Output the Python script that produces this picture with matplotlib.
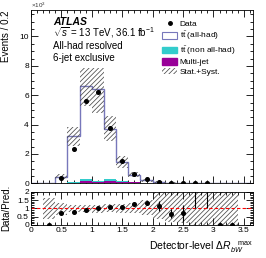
import numpy as np
import matplotlib
matplotlib.use("Agg")
import matplotlib.pyplot as plt
from matplotlib.patches import Patch
from matplotlib.lines import Line2D

plt.rcParams["font.family"] = ["Liberation Sans", "DejaVu Sans"]
plt.rcParams["mathtext.fontset"] = "custom"
plt.rcParams["mathtext.rm"] = "Liberation Sans"
plt.rcParams["mathtext.it"] = "Liberation Sans:italic"
plt.rcParams["hatch.linewidth"] = 0.55

# =========================
# data (x 10^3 events / 0.2)
# =========================
edges = np.round(np.arange(0, 3.61, 0.2), 1)
centers = edges[:-1] + 0.1

multijet = [0, 0, 0.01, 0.03, 0.16, 0.10, 0.15, 0.10, 0.06, 0.03, 0.01, 0.005, 0.002, 0.001, 0, 0, 0, 0]
non_allhad = [0, 0, 0.01, 0.05, 0.11, 0.06, 0.13, 0.03, 0.03, 0.01, 0.005, 0.003, 0.001, 0.001, 0, 0, 0, 0]
total_pred = [0, 0.02, 0.45, 3.23, 6.60, 6.44, 3.70, 1.43, 0.58, 0.20, 0.086, 0.04, 0.02, 0.006, 0.004, 0.002, 0.001, 0]
band_lo = [1, 0.36, 0.62, 0.78, 0.80, 0.74, 0.78, 0.74, 0.70, 0.60, 0.35, 0.20, 0.10, 0, 0, 0, 0, 1]
band_hi = [1, 1.62, 1.35, 1.18, 1.19, 1.22, 1.24, 1.28, 1.30, 1.50, 2.10, 2.30, 2.50, 3.0, 3.0, 3.0, 3.0, 1]

data = [np.nan, np.nan, 0.38, 2.34, 5.62, 6.25, 3.77, 1.52, 0.64, 0.26, 0.10, 0.027, 0.014, 0.012, 0.01, np.nan, np.nan, np.nan]
data_err = [0, 0, 0.12, 0.05, 0.08, 0.08, 0.06, 0.04, 0.03, 0.02, 0.01, 0.005, 0.005, 0.004, 0.004, 0, 0, 0]

ratio = [np.nan, 0.0, 0.74, 0.76, 0.88, 1.0, 1.06, 1.06, 1.26, 1.32, 1.16, 0.68, 0.72, 2.6, 2.6, 0.0, 0.0, np.nan]
ratio_err = [0, 0, 0.04, 0.03, 0.03, 0.03, 0.03, 0.04, 0.06, 0.13, 0.30, 0.25, 0.50, 1.60, 1.60, 0, 0, 0]

legend_labels = ["Data", r"t$\bar{\rm t}$ (all-had)", r"t$\bar{\rm t}$ (non all-had)", "Multi-jet", "Stat.+Syst."]

col_allhad = "#7777bb"
col_nonall = "#33cccc"
col_mj = "#990099"
col_hatch = "#4a4a4a"

# =========================
# figure
# =========================
fig = plt.figure(figsize=(2.66, 2.58), dpi=100)
ax = fig.add_axes([0.1165, 0.2895, 0.8345, 0.6715])
rax = fig.add_axes([0.1165, 0.128, 0.8345, 0.129])

mj = np.array(multijet)
na = np.array(non_allhad)
tot = np.array(total_pred)

# stacked prediction
ax.stairs(tot, edges, fill=True, color="white", zorder=1)
ax.stairs(tot, edges, color=col_allhad, lw=1.0, zorder=3)
ax.stairs(mj + na, edges, fill=True, color=col_nonall, zorder=2)
ax.stairs(mj, edges, fill=True, color=col_mj, zorder=2)

# uncertainty band
ax.stairs(tot * np.array(band_hi), edges, baseline=tot * np.array(band_lo),
          fill=True, facecolor="none", edgecolor=col_hatch, hatch="///////", lw=0, zorder=4)

ax.errorbar(centers, data, yerr=data_err, fmt="o", color="black", ms=2.6,
            elinewidth=0.8, capsize=0, zorder=5)

ax.set_xlim(0, 3.65)
ax.set_ylim(0, 11.8)
ax.set_yticks([0, 2, 4, 6, 8, 10])
ax.set_xticklabels([])
ax.set_ylabel("Events / 0.2", loc="top", fontsize=7)
ax.text(0.0, 1.003, r"$\times10^{3}$", transform=ax.transAxes, fontsize=4.5, va="bottom", ha="left", color="#333333")

ax.text(0.10, 0.915, "ATLAS", transform=ax.transAxes, fontsize=7.5, fontweight="bold", fontstyle="italic")
ax.text(0.10, 0.845, r"$\sqrt{s}$ = 13 TeV, 36.1 fb$^{-1}$", transform=ax.transAxes, fontsize=7)
ax.text(0.10, 0.775, "All-had resolved", transform=ax.transAxes, fontsize=7)
ax.text(0.10, 0.705, "6-jet exclusive", transform=ax.transAxes, fontsize=7)

handles = [
    Line2D([], [], marker="o", color="black", ls="none", ms=2.5),
    Patch(facecolor="white", edgecolor=col_allhad, lw=0.8),
    Patch(facecolor=col_nonall, edgecolor=col_nonall),
    Patch(facecolor=col_mj, edgecolor=col_mj),
    Patch(facecolor="white", edgecolor=col_hatch, hatch="///////", lw=0),
]
ax.legend(handles, legend_labels, loc="upper left", bbox_to_anchor=(0.565, 0.975), frameon=False,
          fontsize=6, handlelength=1.8, handleheight=0.8, labelspacing=0.2, borderpad=0.2,
          handletextpad=0.3)

# =========================
# ratio panel
# =========================
rax.stairs(np.array(band_hi), edges, baseline=np.array(band_lo), fill=True, facecolor="none",
           edgecolor=col_hatch, hatch="///////", lw=0, zorder=1)
rax.axhline(1.0, color="red", ls=(0, (3, 2)), lw=0.8, zorder=2)
rax.errorbar(centers, ratio, yerr=ratio_err, fmt="o", color="black", ms=2.6,
             elinewidth=0.8, capsize=0, zorder=3)
rax.set_xlim(0, 3.65)
rax.set_ylim(0, 2)
rax.set_yticks([0, 0.5, 1, 1.5, 2])
rax.set_yticklabels(["0", "0.5", "1", "1.5", "2"])
rax.set_xticks([0, 0.5, 1, 1.5, 2, 2.5, 3, 3.5])
rax.set_xticklabels(["0", "0.5", "1", "1.5", "2", "2.5", "3", "3.5"])
rax.set_ylabel("Data/Pred.", fontsize=7)
rax.set_xlabel(r"Detector-level $\Delta R_{bW}^{\quad\mathrm{max}}$", loc="right", fontsize=7.5)

for a in (ax, rax):
    a.minorticks_on()
    a.tick_params(which="both", direction="in", top=True, right=True, labelsize=6, width=0.6, pad=1.5)
    a.tick_params(which="major", length=5)
    a.tick_params(which="minor", length=2.5)
    for s in a.spines.values():
        s.set_linewidth(0.6)

ax.yaxis.set_label_coords(-0.09, 1.0)
rax.yaxis.set_label_coords(-0.09, 0.5)

fig.savefig("out.png", dpi=100)
